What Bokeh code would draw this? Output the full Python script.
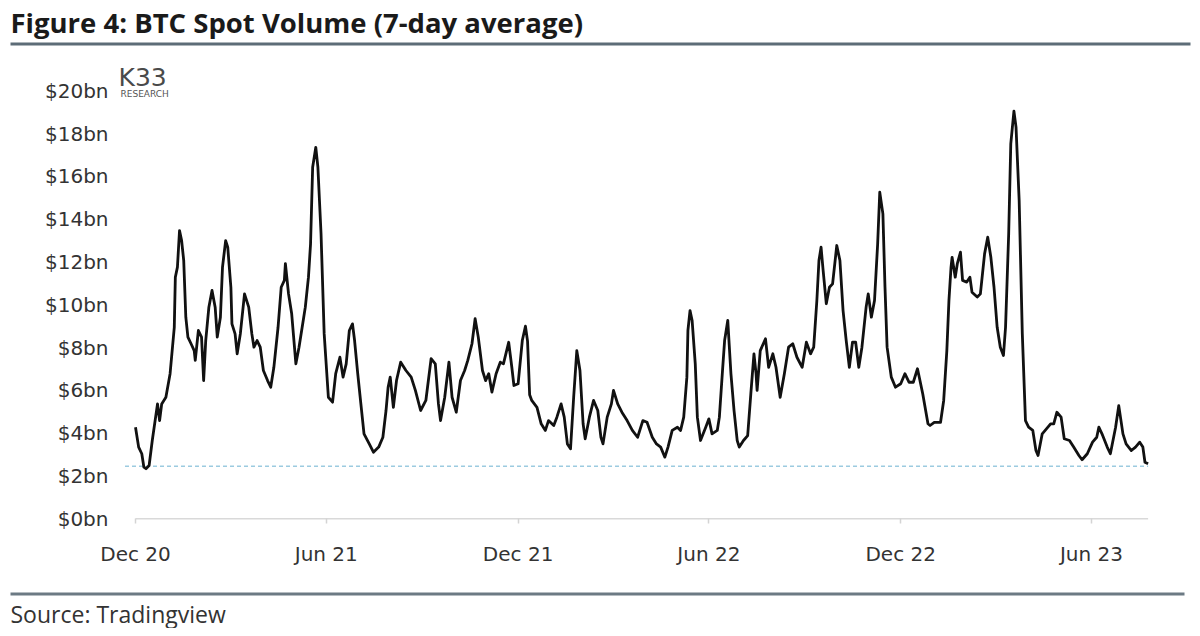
import pandas as pd
from bokeh.plotting import figure
from bokeh.models import FixedTicker, Range1d, Label, BoxAnnotation
from bokeh.embed import file_html
from bokeh.resources import INLINE

# ---------------- data ----------------
start_date = "2020-12-01"
day_offsets = [
    0, 3, 6, 8, 10, 13, 16, 21, 23, 25, 29, 33, 37, 38, 40, 42, 44, 46, 48, 50,
    53, 56, 57, 60, 63, 65, 67, 70, 73, 76, 78, 81, 83, 86, 88, 91, 92, 95, 97, 100,
    104, 108, 111, 113, 116, 119, 122, 126, 129, 132, 136, 139, 142, 143, 146, 149, 153, 156, 160, 162,
    165, 167, 169, 172, 174, 177, 180, 184,
    188, 191, 195, 198, 201, 204, 207, 209, 212, 215, 218, 223, 227, 232, 236, 239, 241, 243, 246, 249,
    253, 258, 263, 267, 272, 277, 282, 286, 289, 291, 295, 299, 302, 306, 310, 314, 317, 321, 324, 327,
    331, 334, 337, 340, 344, 348, 351, 356, 359, 361, 365, 369, 372, 374, 376,
    378, 383, 387, 391, 394, 399, 402, 406, 409, 412, 415, 418, 421, 424, 427, 429, 433, 437, 441, 444,
    446, 450, 454, 456, 460, 464, 469, 474, 479, 484, 488, 493, 497, 501, 505, 508, 512, 517, 520, 523,
    526, 527, 529, 531, 534, 536, 539, 544, 547, 550, 555, 557, 560, 562, 565,
    568, 571, 574, 576, 580, 584, 587, 590, 592, 593, 596, 601, 604, 608, 611, 615, 619, 623, 627, 631,
    636, 640, 644, 647, 650, 652, 654, 656, 659, 662, 665, 669, 672, 675, 678, 681, 684, 687, 690, 693,
    697, 699, 702, 705, 708, 710, 713, 715, 717, 721, 725, 730, 734, 738, 742, 746, 751, 756,
    758, 762, 768, 771, 774, 776, 778, 779, 782, 784, 787, 789, 793, 796, 798, 803, 806, 810, 813, 816,
    819, 822, 825, 828, 830, 833, 835, 838, 840, 843, 846, 849, 852, 856, 859, 861, 865, 869, 873, 876,
    879, 883, 886, 891, 895, 900, 903, 908, 913, 917, 919, 922, 927, 930, 935, 938, 942, 945, 950, 954,
    958, 961, 963, 966,
]
volume_bn = [
    4.28, 3.35, 3.04, 2.41, 2.34, 2.49, 3.66, 5.37, 4.59, 5.37, 5.68, 6.78, 8.95, 11.29, 11.76, 13.47, 13.0, 12.07, 9.42, 8.49,
    8.18, 7.86, 7.40, 8.8, 8.49, 6.46, 8.33, 9.89, 10.67, 9.89, 8.49, 9.42, 11.76, 13.0, 12.69, 10.82, 9.11, 8.64, 7.71, 8.64,
    10.51, 9.89, 8.64, 8.02, 8.33, 8.02, 6.93, 6.46, 6.15, 7.08, 8.95, 10.82, 11.14, 11.92, 10.51, 9.58, 7.24, 8.02, 9.27, 9.89,
    11.29, 12.85, 16.43, 17.36, 16.43, 13.32, 8.64, 5.68,
    5.45, 6.78, 7.55, 6.62, 7.24, 8.8, 9.11, 8.33, 6.78, 5.37, 3.97, 3.5, 3.11, 3.35, 3.81, 5.06, 6.15, 6.62, 5.21, 6.46,
    7.32, 6.93, 6.62, 6.0, 5.06, 5.53, 7.48, 7.24, 5.37, 4.59, 5.68, 7.32, 5.68, 4.98, 6.46, 6.93, 7.40, 8.18, 9.35, 8.49,
    6.93, 6.46, 6.78, 5.92, 6.78, 7.32, 7.24, 8.25, 7.08, 6.23, 6.31, 8.33, 9.0, 8.3, 5.8,
    5.53, 5.21, 4.44, 4.13, 4.59, 4.36, 4.75, 5.37, 4.75, 3.5, 3.27, 5.68, 7.86, 6.93, 4.44, 3.74, 4.75, 5.53, 5.06, 3.81,
    3.5, 4.75, 5.37, 6.0, 5.37, 4.98, 4.59, 4.13, 3.81, 4.59, 4.51, 3.81, 3.5, 3.35, 2.88, 3.35, 4.13, 4.28, 4.13, 4.75,
    6.62, 8.8, 9.73, 9.27, 7.24, 4.75, 3.66, 4.28, 4.67, 3.97, 4.13, 4.75, 6.93, 8.33, 9.27,
    6.8, 5.06, 3.66, 3.35, 3.66, 3.89, 5.84, 7.71, 6.78, 6.0, 7.86, 8.41, 7.08, 7.71, 7.08, 5.68, 6.78, 8.02, 8.18, 7.55,
    7.08, 8.25, 7.71, 8.02, 10.2, 12.07, 12.69, 11.6, 10.05, 10.82, 10.98, 12.77, 12.07, 9.73, 8.33, 7.08, 8.25, 8.25, 7.08, 8.02,
    9.89, 10.51, 9.42, 10.2, 12.85, 15.26, 14.25, 10.82, 8.02, 6.62, 6.15, 6.31, 6.78, 6.38, 6.38, 7.01, 5.84, 4.44,
    4.36, 4.51, 4.51, 5.53, 7.86, 10.2, 11.76, 12.22, 11.29, 11.92, 12.46, 11.14, 11.06, 11.29, 10.59, 10.36, 10.51, 12.38, 13.16, 12.22,
    10.82, 8.95, 8.02, 7.63, 8.95, 13.32, 17.52, 19.05, 18.3, 14.87, 8.64, 4.59, 4.28, 4.13, 3.19, 2.96, 3.97, 4.2, 4.44, 4.44,
    4.98, 4.75, 3.74, 3.66, 3.35, 2.96, 2.76, 3.04, 3.58, 3.81, 4.28, 3.97, 3.35, 3.04, 4.28, 5.29, 3.97, 3.5, 3.19, 3.35,
    3.58, 3.35, 2.64, 2.57,
]
reference_level_bn = 2.46
x_tick_dates = ["2020-12-01", "2021-06-01", "2021-12-01", "2022-06-01", "2022-12-01", "2023-06-01"]
x_tick_labels = ["Dec 20", "Jun 21", "Dec 21", "Jun 22", "Dec 22", "Jun 23"]
y_ticks = [0, 2, 4, 6, 8, 10, 12, 14, 16, 18, 20]
y_tick_labels = ["$0bn", "$2bn", "$4bn", "$6bn", "$8bn", "$10bn", "$12bn", "$14bn", "$16bn", "$18bn", "$20bn"]

title_text = "Figure 4: BTC Spot Volume (7-day average)"
source_text = "Source: Tradingview"

# ---------------- layout constants (canvas px) ----------------
W, H = 1192, 628
X0_PX = 135          # canvas x of first tick date
Y0_PX = 518.3        # canvas y of zero
PX_PER_DAY = 956 / 912
PX_PER_BN = 21.4
YAXIS_PX = 120       # where the (invisible) y axis sits

t0 = pd.Timestamp(start_date)
dates = t0 + pd.to_timedelta(day_offsets, unit="D")

def day_at(px):
    return t0 + pd.Timedelta(days=(px - X0_PX) / PX_PER_DAY)

x_start, x_end = day_at(0), day_at(W)
y_end = Y0_PX / PX_PER_BN
y_start = (Y0_PX - H) / PX_PER_BN

LABEL_FONT = "DejaVu Sans"
FONT = "Open Sans"

p = figure(width=W, height=H, x_axis_type="datetime",
           x_range=Range1d(x_start, x_end), y_range=Range1d(y_start, y_end),
           output_backend="svg", toolbar_location=None,
           min_border=0, min_border_left=0, min_border_right=0,
           min_border_top=0, min_border_bottom=0)
p.outline_line_color = None
p.xgrid.grid_line_color = None
p.ygrid.grid_line_color = None
p.background_fill_color = "white"
p.border_fill_color = "white"

tick_ms = [int(pd.Timestamp(d).value // 10**6) for d in x_tick_dates]
p.xaxis.fixed_location = 0
p.xaxis.ticker = FixedTicker(ticks=tick_ms)
p.xaxis.major_label_overrides = dict(zip(tick_ms, x_tick_labels))
p.xaxis.axis_line_color = None
p.xaxis.major_tick_out = 5
p.xaxis.major_tick_in = 0
p.xaxis.major_tick_line_color = "#d4d4d4"
p.xaxis.major_tick_line_width = 1.5
p.xaxis.minor_tick_line_color = None
p.xaxis.major_label_standoff = 18
p.xaxis.major_label_text_font = LABEL_FONT
p.xaxis.major_label_text_font_size = "20px"
p.xaxis.major_label_text_color = "#333333"

p.yaxis.fixed_location = day_at(YAXIS_PX).value / 10**6
p.yaxis.ticker = FixedTicker(ticks=y_ticks)
p.yaxis.major_label_overrides = dict(zip(y_ticks, y_tick_labels))
p.yaxis.axis_line_color = None
p.yaxis.major_tick_line_color = None
p.yaxis.minor_tick_line_color = None
p.yaxis.major_tick_out = 0
p.yaxis.major_tick_in = 0
p.yaxis.major_label_standoff = 12
p.yaxis.major_label_text_font = LABEL_FONT
p.yaxis.major_label_text_font_size = "20px"
p.yaxis.major_label_text_color = "#333333"

# baseline (axis line) from first to last date
p.line([dates[0], dates[-1]], [0, 0], line_color="#d9d9d9", line_width=1.5)
# dashed reference level
p.line([dates[0] - pd.Timedelta(days=10), dates[-1]], [reference_level_bn, reference_level_bn],
       line_color="#9ccbe0", line_width=1.5, line_dash="4 3")
# main series
p.line(dates, volume_bn, line_color="#111111", line_width=2.8, line_join="round")

# title, rules, source, logo (canvas units: origin top-left)
p.add_layout(Label(x=10, y=22, x_units="canvas", y_units="canvas", text=title_text,
                   text_font=FONT, text_font_style="bold", text_font_size="27.5px",
                   text_color="#1a1a1a", text_baseline="middle"))
p.add_layout(BoxAnnotation(left=10, right=1190, top=42, bottom=45,
                           left_units="canvas", right_units="canvas",
                           top_units="canvas", bottom_units="canvas",
                           fill_color="#5d6c77", fill_alpha=1, line_color=None, level="overlay"))
p.add_layout(BoxAnnotation(left=10, right=1184, top=592, bottom=595,
                           left_units="canvas", right_units="canvas",
                           top_units="canvas", bottom_units="canvas",
                           fill_color="#6c7a84", fill_alpha=1, line_color=None, level="overlay"))
p.add_layout(Label(x=10, y=613, x_units="canvas", y_units="canvas", text=source_text,
                   text_font=FONT, text_font_size="23px", text_color="#333333",
                   text_baseline="middle"))
p.add_layout(Label(x=118, y=77, x_units="canvas", y_units="canvas", text="K33",
                   text_font="DejaVu Sans", text_font_size="25px", text_color="#4a4a4a",
                   text_baseline="middle"))
p.add_layout(Label(x=120, y=93, x_units="canvas", y_units="canvas", text="RESEARCH",
                   text_font="DejaVu Sans", text_font_size="9px", text_color="#555555",
                   text_baseline="middle"))

open("out.html", "w").write(file_html(p, INLINE))
